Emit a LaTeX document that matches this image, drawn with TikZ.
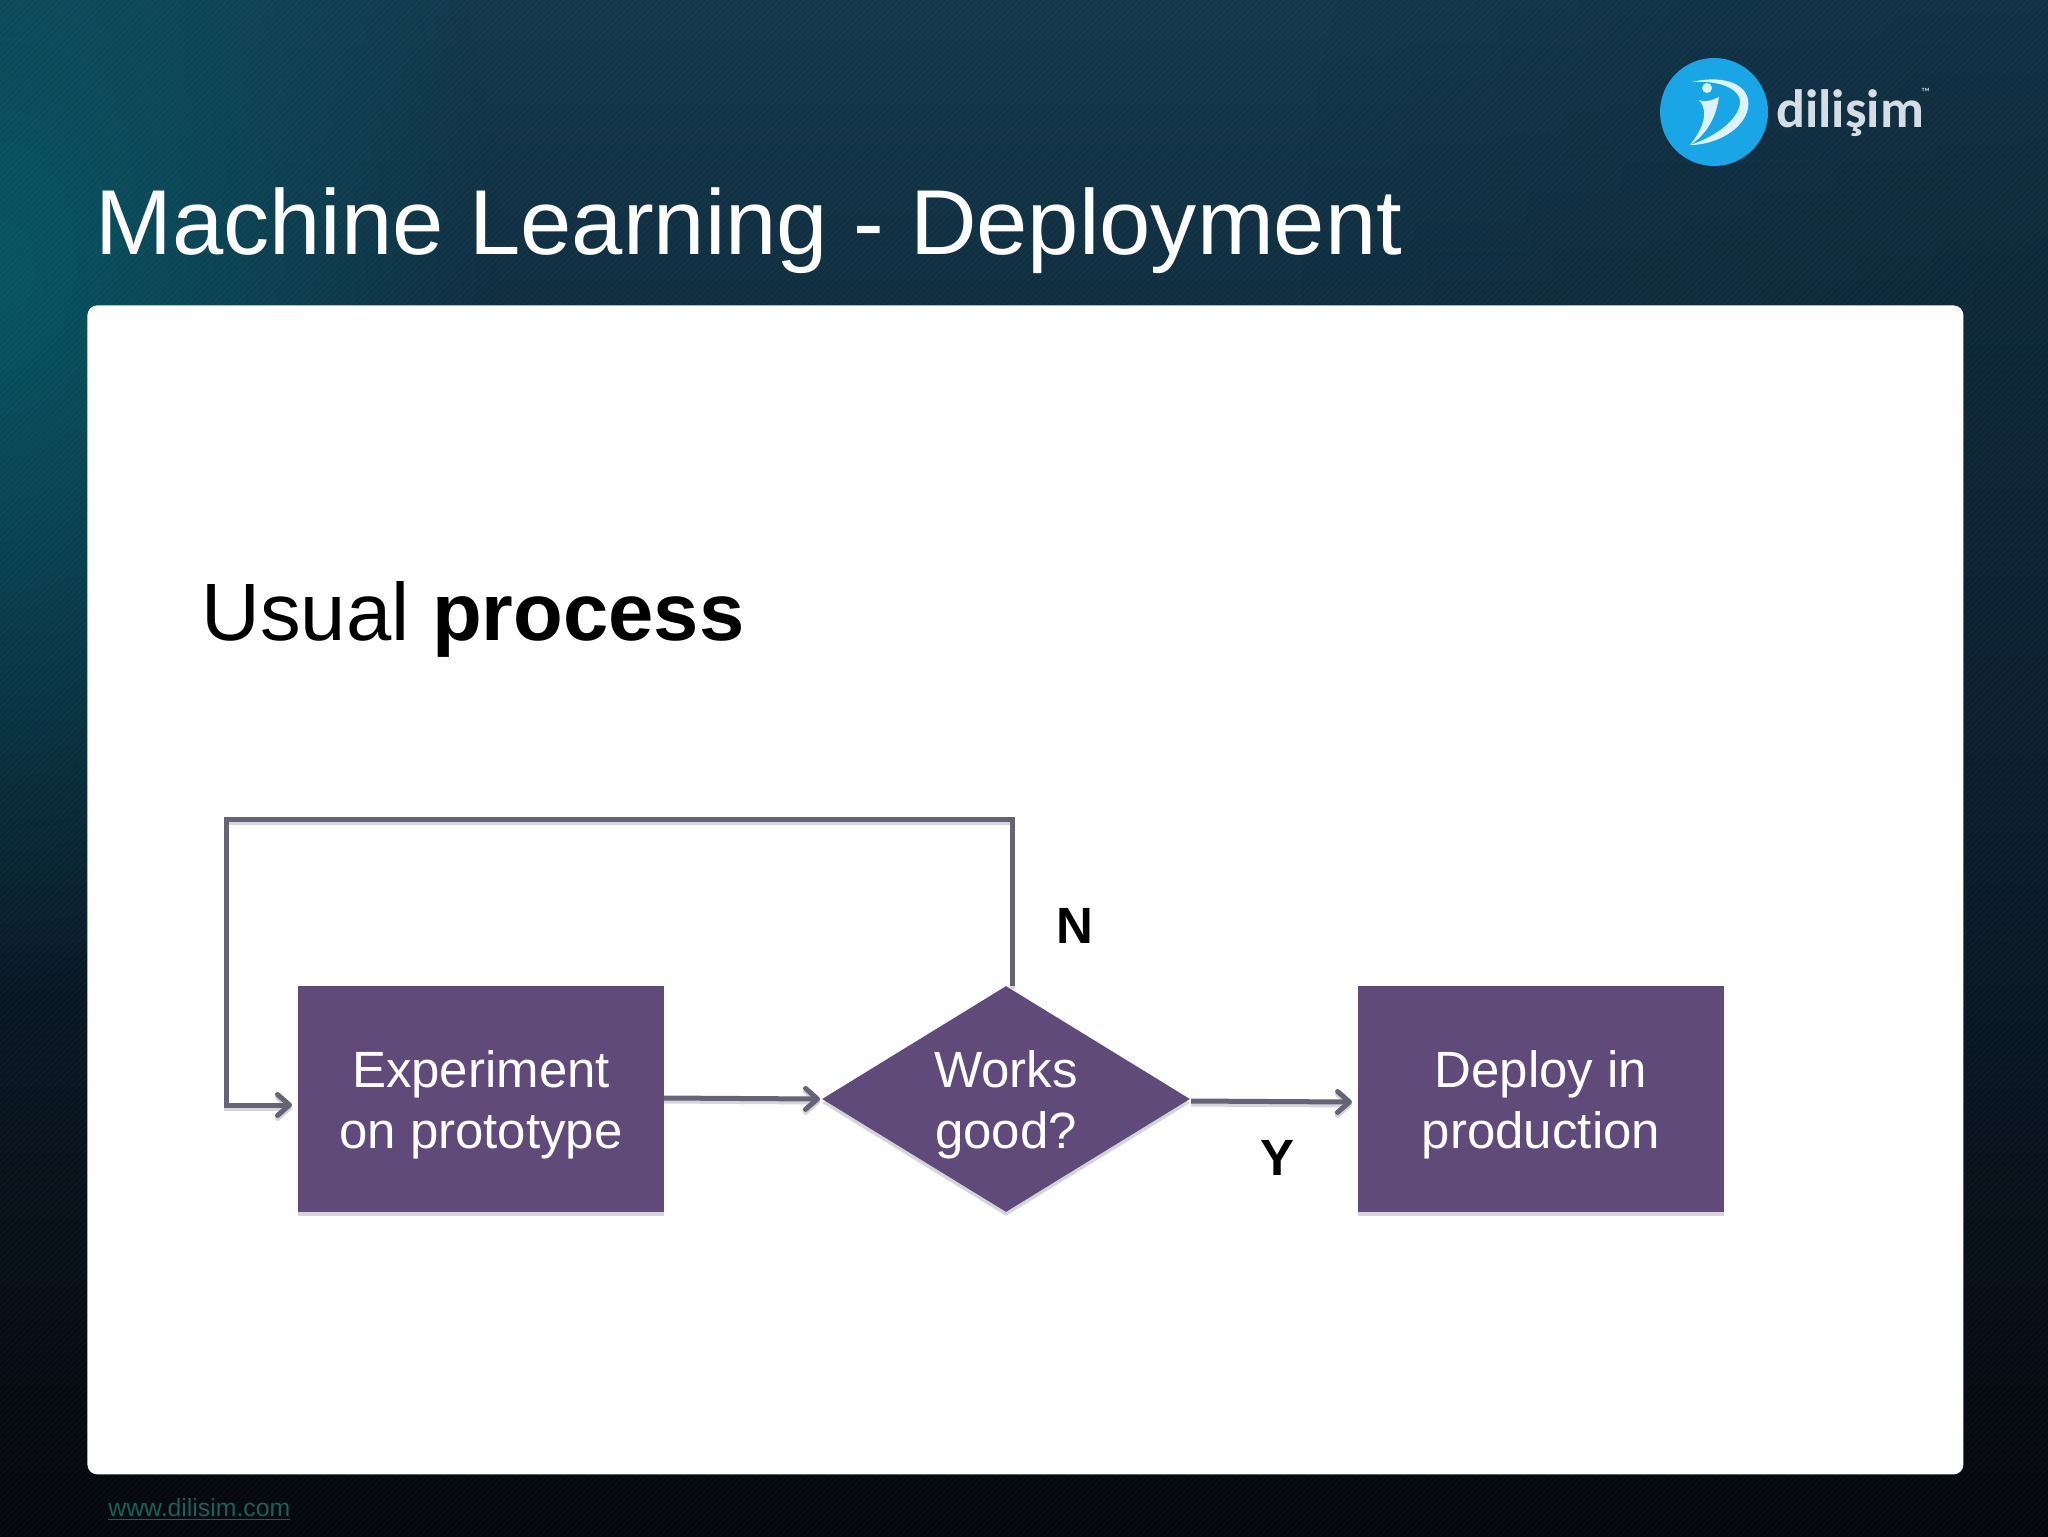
\documentclass[tikz,border=0pt]{standalone}
\usepackage{fontspec}
\setmainfont{Liberation Sans}
\newfontfamily\logofont{Carlito}
\usetikzlibrary{shapes.geometric,arrows.meta,fadings}
\definecolor{bgA}{HTML}{13384C}
\definecolor{bgC}{HTML}{0B1E2D}
\definecolor{bgE}{HTML}{05070C}
\definecolor{glow}{HTML}{065A68}
\definecolor{rightdark}{HTML}{0C2030}
\definecolor{boxfill}{HTML}{5F4A79}
\definecolor{boxshade}{HTML}{D6D4DB}
\definecolor{linecol}{HTML}{666377}
\definecolor{logoblue}{HTML}{1AA5E6}
\definecolor{logopale}{HTML}{DDF3FB}
\definecolor{logotext}{HTML}{D5DEE4}
\definecolor{urlcol}{HTML}{1C5F58}
\tikzfading[name=glowfade, inner color=transparent!15, outer color=transparent!100]
\tikzfading[name=rightfade, inner color=transparent!60, outer color=transparent!100]
\newcommand\firstline{\rule{0pt}{24pt}}
\tikzset{
  x=0.5pt,y=-0.5pt,
  nodetext/.style={align=center,inner sep=0pt,text=white,font=\fontsize{25.5}{30.5}\selectfont},
  procbox/.style={rectangle,fill=boxfill,minimum width=183pt,minimum height=113pt,preaction={fill=boxshade,transform canvas={yshift=-2pt}},nodetext},
  decbox/.style={diamond,fill=boxfill,minimum width=184pt,minimum height=113pt,aspect=1.63,preaction={fill=boxshade,transform canvas={yshift=-2pt}},nodetext},
  conn/.style={draw=linecol,line width=2.5pt,preaction={draw=boxshade,line width=2.5pt,transform canvas={yshift=-1.5pt}}},
  arrowconn/.style={conn,-{Straight Barb[length=6pt,width=10.5pt,line width=2.5pt,round]}},
  branch/.style={font=\bfseries\fontsize{25.5}{30}\selectfont,text=black,inner sep=0pt},
}
\begin{document}
\begin{tikzpicture}
\useasboundingbox (0,0) rectangle (2048,1536);
% background
\shade[top color=bgA,bottom color=bgE,middle color=bgC] (0,0) rectangle (2048,1536);
\fill[glow,path fading=glowfade,fit fading=true] (-500,-450) rectangle (500,1000);
\fill[rightdark,path fading=rightfade,fit fading=true] (1300,-700) rectangle (2800,1300);
\foreach \d in {-1536,-1530,...,2040}{
  \draw[white,opacity=0.025,line width=0.6pt] (\d,1536) -- (\d+1536,0);
}
% panel
\node[anchor=north west,inner sep=0pt,minimum width=938pt,minimum height=584.5pt,fill=white,rounded corners=5pt] (panel) at (87,305) {};
% title
\node[anchor=base west,inner sep=0pt,text=white,font=\fontsize{46.1}{50}\selectfont] (title) at (95,254) {Machine Learning - Deployment};
\node[anchor=base west,inner sep=0pt,text=black,font=\fontsize{40.7}{46}\selectfont] (usual) at (201,640) {Usual \textbf{process}};
% logo
\node[circle,fill=logoblue,minimum size=54pt,inner sep=0pt] (logo) at (1714,112) {};
\fill[logopale] (1692,82) .. controls (1725,74) and (1752,85) .. (1748,108) .. controls (1744,130) and (1715,145) .. (1690,145) .. controls (1712,138) and (1737,122) .. (1740,104) .. controls (1742,90) and (1722,80) .. (1692,82) -- cycle;
\fill[logopale] (1699,100) .. controls (1706,103) and (1712,100) .. (1719,97) .. controls (1716,118) and (1706,135) .. (1690,145) .. controls (1702,130) and (1710,112) .. (1699,100) -- cycle;
\node[circle,fill=logopale,minimum size=5pt,inner sep=0pt] (logodot) at (1707,88) {};
\node[anchor=base west,inner sep=0pt,text=logotext,font=\logofont\bfseries\fontsize{27}{30}\selectfont] (logoname) at (1776,127) {dilişim};
\node[anchor=base west,inner sep=0pt,text=logotext,font=\logofont\fontsize{6}{7}\selectfont] (logotm) at (1921,97) {™};
% url
\node[anchor=base west,inner sep=0pt,text=urlcol,font=\fontsize{12.4}{14}\selectfont] (url) at (108,1516) {\underline{www.dilisim.com}};
% flow
\node[procbox] (exp) at (481,1099) {\firstline Experiment\\on prototype};
\node[decbox] (works) at (1006,1099) {\firstline Works\\good?};
\node[procbox] (deploy) at (1541,1099) {\firstline Deploy in\\production};
\coordinate (loopA) at (1012,986);
\coordinate (loopB) at (1012,819);
\coordinate (loopC) at (226,819);
\coordinate (loopD) at (226,1105);
\coordinate (loopE) at (292,1105);
\coordinate (expOut) at (664,1098);
\coordinate (worksIn) at (820,1099);
\coordinate (worksOut) at (1191,1101);
\coordinate (deployIn) at (1352,1102);
\draw[arrowconn] (loopA) -- (loopB) -- (loopC) -- (loopD) -- (loopE);
\draw[arrowconn] (expOut) -- (worksIn);
\draw[arrowconn] (worksOut) -- (deployIn);
\node[branch] (nlabel) at (1075,926) {N};
\node[branch] (ylabel) at (1277,1158) {Y};
\end{tikzpicture}
\end{document}
